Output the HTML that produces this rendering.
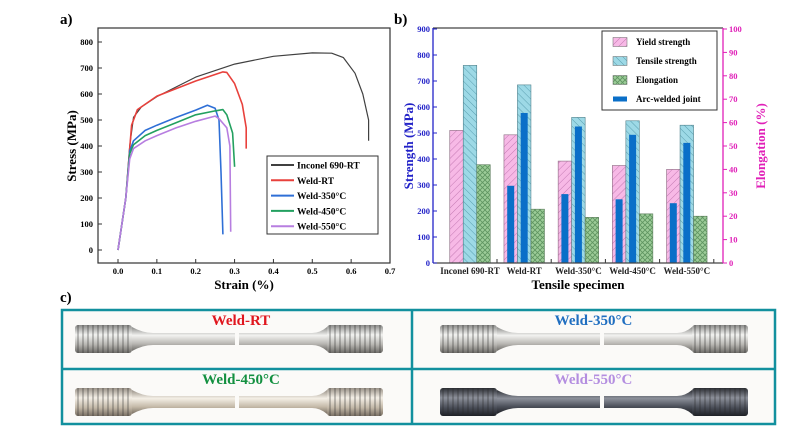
<!DOCTYPE html>
<html><head><meta charset="utf-8"><style>
body{margin:0;background:#fff;width:785px;height:435px;overflow:hidden}
svg{display:block;font-family:"Liberation Serif",serif;font-weight:bold}
</style></head><body>
<svg id="fig" width="785" height="435" viewBox="0 0 785 435" xmlns="http://www.w3.org/2000/svg">
<defs>
<pattern id="hp" width="5" height="5" patternUnits="userSpaceOnUse" patternTransform="rotate(45)"><rect width="5" height="5" fill="#f7b9e6"/><line x1="0" y1="0" x2="0" y2="5" stroke="#c47ab3" stroke-width="1"/></pattern>
<pattern id="hc" width="5" height="5" patternUnits="userSpaceOnUse" patternTransform="rotate(-45)"><rect width="5" height="5" fill="#9dd9e6"/><line x1="0" y1="0" x2="0" y2="5" stroke="#5a9fb0" stroke-width="1"/></pattern>
<pattern id="hg" width="5" height="5" patternUnits="userSpaceOnUse"><rect width="5" height="5" fill="#9ccc98"/><path d="M0 0L5 5M5 0L0 5" stroke="#5e9460" stroke-width="0.8"/></pattern>
<linearGradient id="met" x1="0" y1="0" x2="0" y2="1"><stop offset="0" stop-color="#8a8a88"/><stop offset="0.35" stop-color="#f2f2f0"/><stop offset="0.7" stop-color="#b8b6b2"/><stop offset="1" stop-color="#6e6c68"/></linearGradient>
<linearGradient id="metw" x1="0" y1="0" x2="0" y2="1"><stop offset="0" stop-color="#9a9288"/><stop offset="0.35" stop-color="#f4efe6"/><stop offset="0.7" stop-color="#c4b9a8"/><stop offset="1" stop-color="#7a7064"/></linearGradient>
<linearGradient id="metd" x1="0" y1="0" x2="0" y2="1"><stop offset="0" stop-color="#2c2e34"/><stop offset="0.35" stop-color="#8c909a"/><stop offset="0.7" stop-color="#4a4e58"/><stop offset="1" stop-color="#1e2026"/></linearGradient>
</defs>
<g id="pa"></g><g id="pb"></g><g id="pc"></g>
</svg>
<script>
// ---- Panel a data ----
const seriesNames=["Inconel 690-RT","Weld-RT","Weld-350°C","Weld-450°C","Weld-550°C"];
const seriesColors=["#404040","#e8413c","#2f6fd6","#23a060","#b77ee0"];
const strainInconel=[0,0.02,0.03,0.04,0.06,0.1,0.2,0.3,0.4,0.5,0.55,0.58,0.61,0.63,0.645,0.645];
const stressInconel=[0,200,400,510,550,590,665,715,745,758,757,740,680,600,500,420];
const strainRT=[0,0.02,0.03,0.035,0.05,0.1,0.2,0.25,0.27,0.28,0.3,0.32,0.33,0.33];
const stressRT=[0,200,390,480,540,592,650,675,685,683,640,560,470,390];
const strain350=[0,0.02,0.03,0.04,0.07,0.1,0.15,0.2,0.23,0.25,0.26,0.265,0.27];
const stress350=[0,200,380,420,460,480,510,538,557,545,500,300,60];
const strain450=[0,0.02,0.03,0.04,0.07,0.1,0.15,0.2,0.25,0.27,0.28,0.295,0.3];
const stress450=[0,200,370,405,440,460,490,520,535,540,520,450,320];
const strain550=[0,0.02,0.03,0.04,0.07,0.1,0.15,0.2,0.25,0.26,0.28,0.288,0.29];
const stress550=[0,200,350,390,420,440,470,495,515,505,470,400,70];
const xTicksA=[0,0.1,0.2,0.3,0.4,0.5,0.6,0.7];
const yTicksA=[0,100,200,300,400,500,600,700,800];
// ---- Panel b data ----
const categories=["Inconel 690-RT","Weld-RT","Weld-350°C","Weld-450°C","Weld-550°C"];
const yieldStrength=[510,493,392,375,360];
const tensileStrength=[760,685,560,547,530];
const elongation=[42,23,19.5,21,20];
const arcYield=[null,297,265,245,230];
const arcTensile=[null,577,525,493,462];
const yTicksB=[0,100,200,300,400,500,600,700,800,900];
const yTicksB2=[0,10,20,30,40,50,60,70,80,90,100];

const NS="http://www.w3.org/2000/svg";
function mk(tag,attrs,parent,txt){const e=document.createElementNS(NS,tag);for(const k in attrs)e.setAttribute(k,attrs[k]);if(txt!==undefined)e.textContent=txt;parent.appendChild(e);return e;}
const pa=document.getElementById('pa'),pb=document.getElementById('pb'),pc=document.getElementById('pc');

// Panel a
const xA=v=>118+v*(390-118)/0.7, yA=v=>250-v*(250-42)/800;
let t=mk('text',{x:60,y:24,'font-size':15},pa,'a)');


let r=mk('rect',{x:98,y:28,width:292,height:235,fill:'none',stroke:'#333','stroke-width':1.2},pa);


xTicksA.forEach(v=>{mk('line',{x1:xA(v),x2:xA(v),y1:263,y2:259,stroke:'#333'},pa);
 const e=mk('text',{x:xA(v),y:274,'font-size':8.5,'text-anchor':'middle'},pa,v.toFixed(1));
 
 });
yTicksA.forEach(v=>{mk('line',{x1:98,x2:102,y1:yA(v),y2:yA(v),stroke:'#333'},pa);
 const e=mk('text',{x:93,y:yA(v)+3,'font-size':8.5,'text-anchor':'end'},pa,v);
 
 });
t=mk('text',{x:244,y:289,'font-size':13,'text-anchor':'middle'},pa,'Strain (%)');


t=mk('text',{x:0,y:0,'font-size':13,'text-anchor':'middle',transform:'translate(76,146) rotate(-90)'},pa,'Stress (MPa)');


const strains=[strainInconel,strainRT,strain350,strain450,strain550];
const stresses=[stressInconel,stressRT,stress350,stress450,stress550];
strains.forEach((xs,i)=>{
 const d=xs.map((x,j)=>(j?'L':'M')+xA(x).toFixed(1)+' '+yA(stresses[i][j]).toFixed(1)).join('');
 const p=mk('path',{d,fill:'none',stroke:seriesColors[i],'stroke-width':i?1.6:1.2,'stroke-linejoin':'round'},pa);
 
 
});
r=mk('rect',{x:267,y:156,width:111,height:78,fill:'#fff',stroke:'#333'},pa);


seriesNames.forEach((n,i)=>{const y=165+i*15.3;
 mk('line',{x1:271,x2:294,y1:y,y2:y,stroke:seriesColors[i],'stroke-width':2},pa);
 const e=mk('text',{x:297,y:y+3.5,'font-size':9.5},pa,n);
 
 });

// Panel b
const yB=v=>263-v*(263-29)/900, yB2=v=>263-v*(263-29)/100;
const gx=i=>470+i*54.2;
t=mk('text',{x:394,y:24,'font-size':15},pb,'b)');


const bw=13.5;
categories.forEach((c,i)=>{
 const g=gx(i);
 const b1=mk('rect',{x:g-bw*1.5,y:yB(yieldStrength[i]),width:bw,height:263-yB(yieldStrength[i]),fill:'url(#hp)',stroke:'#8a6a80','stroke-width':0.6},pb);
 
 
 const b2=mk('rect',{x:g-bw*0.5,y:yB(tensileStrength[i]),width:bw,height:263-yB(tensileStrength[i]),fill:'url(#hc)',stroke:'#50808a','stroke-width':0.6},pb);
 
 
 const b3=mk('rect',{x:g+bw*0.5,y:yB2(elongation[i]),width:bw,height:263-yB2(elongation[i]),fill:'url(#hg)',stroke:'#5a7a5a','stroke-width':0.6},pb);
 
 
 if(arcYield[i]!==null){
  const a1=mk('rect',{x:g-bw-3.5,y:yB(arcYield[i]),width:7,height:263-yB(arcYield[i]),fill:'#0a6fc8'},pb);
  
  
 }
 if(arcTensile[i]!==null){
  const a2=mk('rect',{x:g-3.5,y:yB(arcTensile[i]),width:7,height:263-yB(arcTensile[i]),fill:'#0a6fc8'},pb);
  
  
 }
 const e=mk('text',{x:g,y:274,'font-size':9,'text-anchor':'middle','fill':'#222'},pb,c);
 
 
 mk('line',{x1:g+27,x2:g+27,y1:263,y2:259,stroke:'#333'},pb);
});
mk('line',{x1:433,x2:723,y1:28,y2:28,stroke:'#444','stroke-width':1.2},pb);
mk('line',{x1:433,x2:723,y1:263,y2:263,stroke:'#444','stroke-width':1.2},pb);
let ax=mk('line',{x1:433,x2:433,y1:28,y2:263,stroke:'#2323c8','stroke-width':1.3},pb);


ax=mk('line',{x1:723,x2:723,y1:28,y2:263,stroke:'#e020b8','stroke-width':1.3},pb);


yTicksB.forEach(v=>{mk('line',{x1:433,x2:437,y1:yB(v),y2:yB(v),stroke:'#2323c8'},pb);
 const e=mk('text',{x:430,y:yB(v)+3,'font-size':8.5,'text-anchor':'end',fill:'#2323c8'},pb,v);
 
 });
yTicksB2.forEach(v=>{mk('line',{x1:723,x2:727,y1:yB2(v),y2:yB2(v),stroke:'#e020b8'},pb);
 const e=mk('text',{x:729,y:yB2(v)+3,'font-size':8.5,fill:'#e020b8'},pb,v);
 
 });
t=mk('text',{x:578,y:289,'font-size':13,'text-anchor':'middle'},pb,'Tensile specimen');


t=mk('text',{x:0,y:0,'font-size':13,'text-anchor':'middle',fill:'#2323c8',transform:'translate(413,146) rotate(-90)'},pb,'Strength (MPa)');


t=mk('text',{x:0,y:0,'font-size':13,'text-anchor':'middle',fill:'#e020b8',transform:'translate(765,146) rotate(-90)'},pb,'Elongation (%)');


r=mk('rect',{x:602,y:31,width:115,height:79,fill:'#fff',stroke:'#333'},pb);


const lg=[['url(#hp)','Yield strength'],['url(#hc)','Tensile strength'],['url(#hg)','Elongation'],['#0a6fc8','Arc-welded joint']];
lg.forEach((l,i)=>{const y=42+i*19;
 mk('rect',{x:613,y:y-(i==3?2.5:4.5),width:14,height:i==3?5:9,fill:l[0],stroke:i==3?'none':'#666','stroke-width':0.5},pb);
 const e=mk('text',{x:636,y:y+3,'font-size':9},pb,l[1]);
 
 });

// Panel c
t=mk('text',{x:60,y:302,'font-size':15},pc,'c)');


const cells=[[62,310,'Weld-RT','#e0161e','url(#met)'],[412,310,'Weld-350°C','#1f6ec0','url(#met)'],[62,369,'Weld-450°C','#139040','url(#metw)'],[412,369,'Weld-550°C','#b48ee0','url(#metd)']];
cells.forEach((c,i)=>{
 const [x,y,label,col,fill]=c, w=(i%2?363:350);
 const g=mk('g',{},pc);
 
 
 mk('rect',{x:x,y:y,width:w,height:i<2?59:55,fill:'#fbfaf8'},g);
 const cy=y+(i<2?29:33), ox=x+13+(i%2?15:0);
 mk('rect',{x:ox,y:cy-14,width:57,height:28,rx:3,fill:fill},g);
 for(let k=0;k<11;k++)mk('line',{x1:ox+3+k*5,x2:ox+3+k*5,y1:cy-14,y2:cy+14,stroke:'rgba(40,40,40,0.35)','stroke-width':1.5},g);
 mk('path',{d:`M${ox+57} ${cy-12}Q${ox+68} ${cy-6} ${ox+78} ${cy-6}L${ox+160} ${cy-6}L${ox+160} ${cy+6}L${ox+78} ${cy+6}Q${ox+68} ${cy+6} ${ox+57} ${cy+12}Z`,fill:fill},g);
 mk('path',{d:`M${ox+164} ${cy-6}L${ox+237} ${cy-6}Q${ox+245} ${cy-6} ${ox+252} ${cy-12}L${ox+252} ${cy+12}Q${ox+245} ${cy+6} ${ox+237} ${cy+6}L${ox+164} ${cy+6}Z`,fill:fill},g);
 mk('rect',{x:ox+252,y:cy-14,width:56,height:28,rx:3,fill:fill},g);
 for(let k=0;k<11;k++)mk('line',{x1:ox+255+k*5,x2:ox+255+k*5,y1:cy-14,y2:cy+14,stroke:'rgba(40,40,40,0.35)','stroke-width':1.5},g);
 const e=mk('text',{x:x+w/2+(i%2?0:4),y:y+15,'font-size':15,'text-anchor':'middle',fill:col},g,label);
 
 
});
r=mk('rect',{x:62,y:310,width:713,height:114,fill:'none',stroke:'#12909e','stroke-width':2.5},pc);


mk('line',{x1:412,x2:412,y1:310,y2:424,stroke:'#12909e','stroke-width':2.5},pc);
mk('line',{x1:62,x2:775,y1:369,y2:369,stroke:'#12909e','stroke-width':2.5},pc);
</script>
</body></html>
